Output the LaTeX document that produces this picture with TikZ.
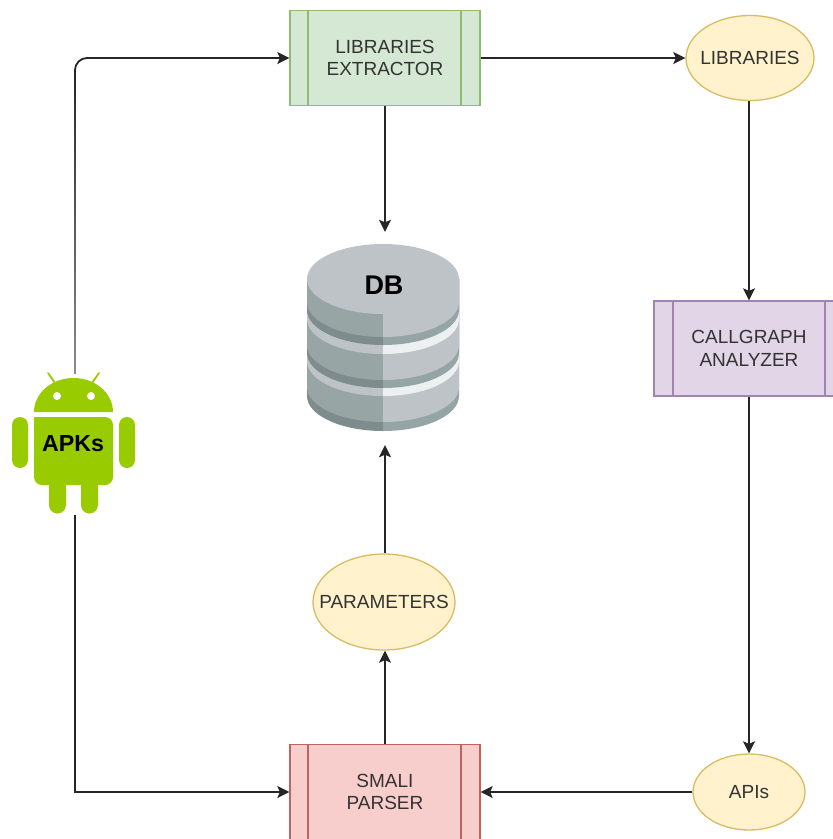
\documentclass[tikz,border=0pt]{standalone}
\usepackage{fontspec}
\setmainfont{Liberation Sans}
\usetikzlibrary{arrows.meta,shapes.geometric}
\definecolor{ink}{HTML}{333333}
\definecolor{gfill}{HTML}{D5E8D4}\definecolor{gline}{HTML}{8FBC73}
\definecolor{pfill}{HTML}{E1D5E7}\definecolor{pline}{HTML}{A184B0}
\definecolor{rfill}{HTML}{F8CECC}\definecolor{rline}{HTML}{C0625E}
\definecolor{yfill}{HTML}{FFF2CC}\definecolor{yline}{HTML}{D9BC62}
\definecolor{droid}{HTML}{99CC00}
\definecolor{dbtop}{HTML}{BDC3C7}\definecolor{dbsideL}{HTML}{97A6A5}
\definecolor{dbbandL}{HTML}{7F8C8D}\definecolor{dbbandR}{HTML}{95A5A6}
\definecolor{dbwhiteR}{HTML}{ECF0F1}
\newcommand{\dbarc}[2]{\fill[#2] (307,279) -- (307,#1-35) arc[start angle=180,end angle=0,x radius=76,y radius=35] -- (459,279) -- cycle;}
\newcommand{\zerow}[1]{\makebox[0pt][c]{#1}}
\tikzset{
 x=1pt,y=-1pt,
 label text/.style={font=\fontsize{19}{22.5}\selectfont,text=ink,align=center,inner sep=0pt},
 procbox/.style={draw=#1,line width=1.3pt,minimum width=190pt,minimum height=95pt,inner sep=0pt,label text},
 dataell/.style={ellipse,draw=yline,fill=yfill,line width=1.3pt,inner sep=0pt,label text},
 conn/.style={draw=black!85,line width=1.8pt,-{Stealth[length=12pt,width=12pt,inset=2.5pt]}},
 boldtext/.style={font=\bfseries\fontsize{#1}{#1}\selectfont,text=black,inner sep=0pt}
}
\begin{document}
\begin{tikzpicture}
\useasboundingbox (0,0) rectangle (833,839);
\clip (0,0) rectangle (833,839);
\fill[white] (0,0) rectangle (833,839);

% database
\begin{scope}
 \clip (307,230) rectangle (383,440);
 \dbarc{431}{dbbandL}\dbarc{422}{dbsideL}\dbarc{396}{dbtop}\dbarc{388}{dbbandL}\dbarc{380}{dbsideL}
 \dbarc{354}{dbtop}\dbarc{345}{dbbandL}\dbarc{337}{dbsideL}
\end{scope}
\begin{scope}
 \clip (383,230) rectangle (459,440);
 \dbarc{431}{dbbandR}\dbarc{422}{dbtop}\dbarc{396}{dbwhiteR}\dbarc{388}{dbbandR}\dbarc{380}{dbtop}
 \dbarc{354}{dbwhiteR}\dbarc{345}{dbbandR}\dbarc{337}{dbtop}
\end{scope}
\fill[dbtop] (383,279) ellipse[x radius=76,y radius=35];
\node[minimum width=152pt,minimum height=213pt,inner sep=0pt] (db) at (385,338.5) {};
\node[boldtext=27] (dblabel) at (384,285) {DB};

% android
\fill[droid] (34,412) arc[start angle=180,end angle=360,x radius=39.5,y radius=34] -- cycle;
\draw[droid,line width=1.8pt,line cap=round] (55,383) -- (48,373) (92,383) -- (99,373);
\fill[white] (57,396) circle[radius=4] (91,396) circle[radius=4];
\fill[droid,rounded corners=8pt] (34,417) -- (34,485) -- (113,485) -- (113,417) [sharp corners] -- cycle;
\fill[droid] (12,425) arc[start angle=180,end angle=360,radius=8] -- (28,460) arc[start angle=0,end angle=180,radius=8] -- cycle;
\fill[droid] (119,425) arc[start angle=180,end angle=360,radius=8] -- (135,460) arc[start angle=0,end angle=180,radius=8] -- cycle;
\fill[droid] (49,480) -- (66,480) -- (66,505) arc[start angle=0,end angle=180,radius=8.5] -- cycle;
\fill[droid] (81,480) -- (98,480) -- (98,505) arc[start angle=0,end angle=180,radius=8.5] -- cycle;
\node[boldtext=23.2] (apklabel) at (73,444) {APKs};
\node[minimum width=123pt,minimum height=142pt,inner sep=0pt] (apk) at (75,444) {};

% processes
\node[procbox=gline,fill=gfill] (extractor) at (385,58) {LIBRARIES\\EXTRACTOR};
\draw[gline,line width=1.1pt] (308,10.5) -- (308,105.5) (461,10.5) -- (461,105.5);
\node[procbox=pline,fill=pfill] (callgraph) at (749,348.5) {CALLGRAPH\\ANALYZER};
\draw[pline,line width=1.1pt] (673,301) -- (673,396) (825,301) -- (825,396);
\node[procbox=rline,fill=rfill] (smali) at (385,792) {SMALI\\PARSER};
\draw[rline,line width=1.1pt] (308,745) -- (308,840) (461,745) -- (461,840);

% data
\node[dataell,minimum width=128pt,minimum height=85pt] (libs) at (750,58) {\zerow{LIBRARIES}};
\node[dataell,minimum width=142pt,minimum height=96pt] (params) at (384,602) {\zerow{PARAMETERS}};
\node[dataell,minimum width=112pt,minimum height=76pt] (apis) at (749,792) {\zerow{APIs}};

% connectors
\draw[conn,rounded corners=12pt] (apk.north) |- (extractor.west);
\shade[top color=black!85,bottom color=black!45] (74.1,72) rectangle (75.9,373);
\draw[conn] (apk.south) |- (smali.west);
\draw[conn] (extractor.east) -- (libs.west);
\draw[conn] (extractor.south) -- (db.north);
\draw[conn] (libs.south -| callgraph.north) -- (callgraph.north);
\draw[conn] (callgraph.south) -- (apis.north);
\draw[conn] (apis.west) -- (smali.east);
\draw[conn] (smali.north) -- (smali.north |- params.south);
\draw[conn] (smali.north |- params.north) -- (db.south);
\end{tikzpicture}
\end{document}
